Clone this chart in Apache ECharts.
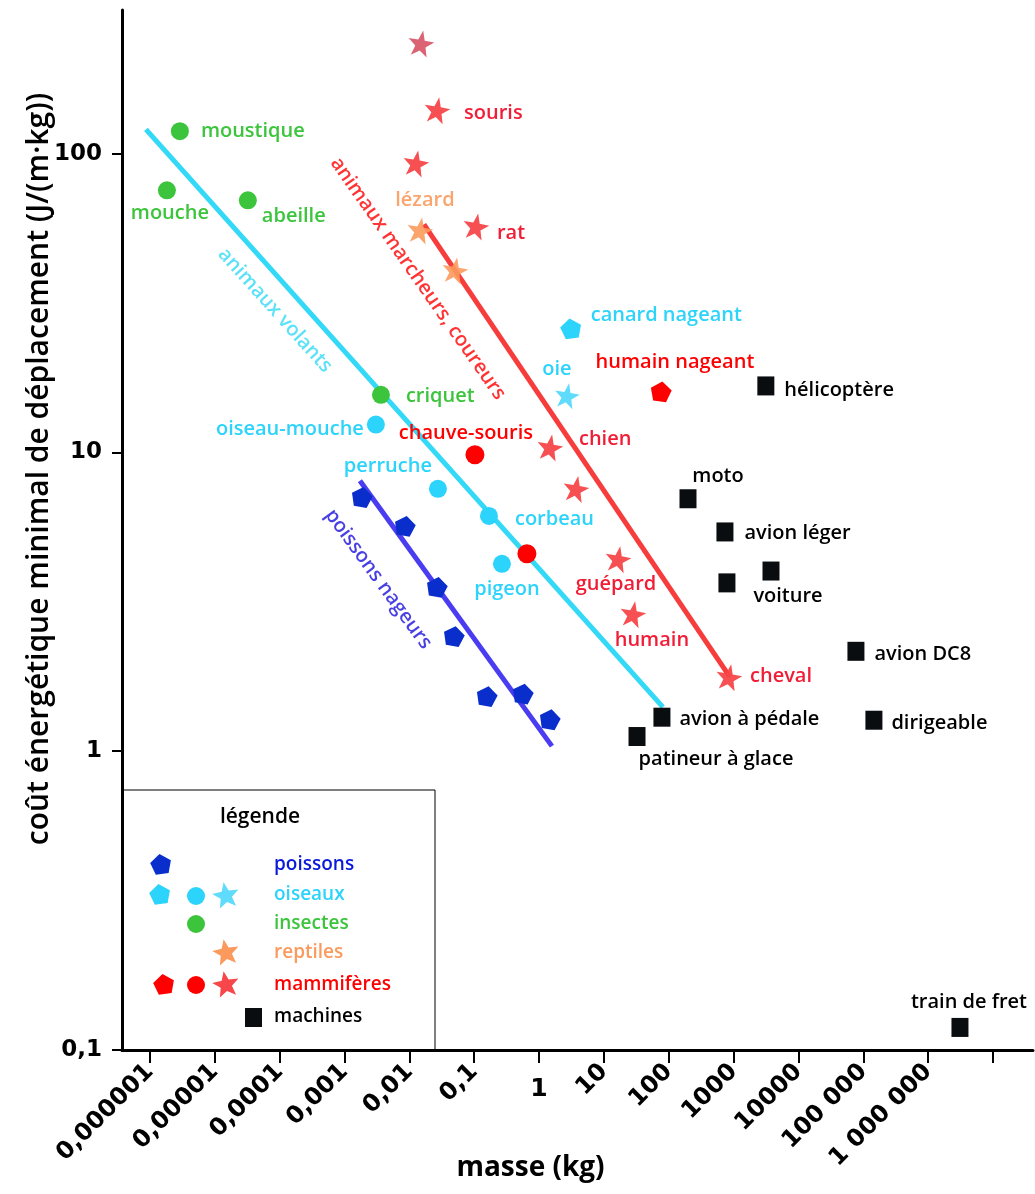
<!DOCTYPE html>
<html>
<head>
<meta charset="utf-8">
<title>coût énergétique minimal de déplacement</title>
<script src="https://cdn.jsdelivr.net/npm/echarts@6/dist/echarts.min.js"></script>
<style>
	html, body { margin: 0; padding: 0; background: #fff; }
	#chart { width: 1035px; height: 1194px; }
</style>
</head>
<body>
<div id="chart"></div>
<script>
	// axes
	const xTicks = [1e-6, 1e-5, 1e-4, 1e-3, 1e-2, 1e-1, 1, 10, 100, 1000, 1e4, 1e5, 1e6, 1e7];
	const xTickLabels = ['0,000001', '0,00001', '0,0001', '0,001', '0,01', '0,1', '1', '10', '100', '1000', '10000', '100 000', '1 000 000', ''];
	const yTicks = [0.1, 1, 10, 100];
	const yTickLabels = ['0,1', '1', '10', '100'];

	// poissons (pentagones)
	const poissonsMass = [0.00186, 0.00857, 0.0267, 0.0488, 0.157, 0.565, 1.47];
	const poissonsCost = [7.10, 5.68, 3.55, 2.43, 1.53, 1.56, 1.28];

	// oiseaux
	const oiseauxPentaNames = ['canard nageant'];
	const oiseauxPentaMass = [3.10];
	const oiseauxPentaCost = [26.0];
	const oiseauxRondNames = ['oiseau-mouche', 'perruche', 'corbeau', 'pigeon'];
	const oiseauxRondMass = [0.00305, 0.0276, 0.169, 0.268];
	const oiseauxRondCost = [12.4, 7.56, 6.13, 4.24];
	const oiseauxEtoileNames = ['oie'];
	const oiseauxEtoileMass = [2.69];
	const oiseauxEtoileCost = [15.5];

	// insectes
	const insectesNames = ['moustique', 'mouche', 'abeille', 'criquet'];
	const insectesMass = [2.90e-6, 1.83e-6, 3.24e-5, 0.00365];
	const insectesCost = [119, 75.4, 69.8, 15.6];

	// reptiles
	const reptilesNames = ['lézard', ''];
	const reptilesMass = [0.01456, 0.0505];
	const reptilesCost = [55.4, 40.7];

	// mammifères
	const mammPentaNames = ['humain nageant'];
	const mammPentaMass = [75.8];
	const mammPentaCost = [16.0];
	const mammRondNames = ['chauve-souris', ''];
	const mammRondMass = [0.1027, 0.65];
	const mammRondCost = [9.83, 4.58];
	const mammEtoileNames = ['', 'souris', '', 'rat', 'chien', '', 'guépard', 'humain', 'cheval'];
	const mammEtoileMass = [0.0151, 0.0267, 0.01264, 0.1064, 1.47, 3.71, 16.5, 28.0, 847];
	const mammEtoileCost = [234, 140, 92.9, 57.1, 10.4, 7.56, 4.40, 2.88, 1.77];

	// machines
	const machinesNames = ['hélicoptère', 'moto', 'avion léger', '', 'voiture', 'avion DC8', 'dirigeable', 'avion à pédale', 'patineur à glace', 'train de fret'];
	const machinesMass = [3140, 198, 735, 789, 3770, 76900, 145600, 78.5, 32.4, 3.09e6];
	const machinesCost = [16.7, 7.0, 5.42, 3.66, 4.01, 2.16, 1.27, 1.30, 1.12, 0.119];

	// droites
	const volantsMass = [8.69e-7, 81.3];
	const volantsCost = [120.7, 1.405];
	const marcheursMass = [0.0168, 879];
	const marcheursCost = [58.0, 1.77];
	const nageursMass = [0.00173, 1.58];
	const nageursCost = [8.04, 1.04];

	// noms des droites (placés le long de chaque droite)
	const trendNames = ['animaux volants', 'animaux marcheurs, coureurs', 'poissons nageurs'];
	const trendNameMass = [8.47e-5, 0.01358, 0.00332];
	const trendNameCost = [29.9, 38.2, 3.77];

	// ---- style ----
	const C = {
		fish: '#0a2ecc',
		bird: '#2cd3fb',
		birdStar: '#5fdbfb',
		insect: '#3cc43c',
		reptile: '#fb9a5c',
		mammal: '#ff0000',
		mammalStar: '#f7474a',
		machine: '#0a0d10'
	};
	const PENTA = 'path://M50,0 L97.6,34.5 L79.4,90.5 L20.6,90.5 L2.4,34.5 Z';
	const STAR = 'path://M50,0 L61.8,33.8 L97.6,34.5 L69,56.2 L79.4,90.5 L50,70 L20.6,90.5 L31,56.2 L2.4,34.5 L38.2,33.8 Z';
	const labelFont = { fontFamily: 'Open Sans', fontWeight: 600, fontSize: 20 };

	// [position, distance, offset]
	const labelPlace = {
		'souris': ['right', 12, [0, 3]],
		'rat': ['right', 6, [0, 7]],
		'lézard': ['top', 5, [5, 0]],
		'moustique': ['right', 12, [0, 0]],
		'mouche': ['bottom', 4, [3, 0]],
		'abeille': ['right', 5, [0, 16]],
		'criquet': ['right', 16, [0, 2]],
		'oiseau-mouche': ['left', 3, [0, 5]],
		'chauve-souris': ['top', 2, [-9, 0]],
		'perruche': ['top', 3, [-50, 0]],
		'corbeau': ['right', 17, [0, 3]],
		'pigeon': ['bottom', 6, [5, 0]],
		'canard nageant': ['right', 8, [0, -13]],
		'oie': ['top', 2, [-10, 0]],
		'humain nageant': ['top', 8, [14, 0]],
		'chien': ['right', 14, [0, -8]],
		'guépard': ['bottom', 0, [-2, 0]],
		'humain': ['bottom', 1, [19, 0]],
		'cheval': ['right', 6, [0, -1]],
		'hélicoptère': ['right', 10, [0, 4]],
		'moto': ['top', 3, [30, 0]],
		'avion léger': ['right', 11, [0, 1]],
		'voiture': ['bottom', 6, [17, 0]],
		'avion DC8': ['right', 10, [0, 3]],
		'dirigeable': ['right', 9, [0, 3]],
		'avion à pédale': ['right', 9, [0, 2]],
		'patineur à glace': ['bottom', 3, [79, 0]],
		'train de fret': ['top', 6, [9, 0]]
	};

	function points(mass, cost, names) {
		return mass.map((m, i) => {
			const name = names ? names[i] : '';
			const item = { value: [m, cost[i]], name: name };
			const p = labelPlace[name];
			if (p) {
				item.label = { show: true, position: p[0], distance: p[1], offset: p[2] };
			}
			return item;
		});
	}

	function scatter(name, data, symbol, size, color, labelColor, extra) {
		return Object.assign({
			name: name,
			type: 'scatter',
			data: data,
			symbol: symbol,
			symbolSize: size,
			itemStyle: { color: color, opacity: 1 },
			label: Object.assign({ show: false, formatter: '{b}', color: labelColor }, labelFont),
			emphasis: { disabled: true },
			z: 4
		}, extra || {});
	}

	function trend(mass, cost, color) {
		return {
			type: 'line',
			data: mass.map((m, i) => [m, cost[i]]),
			symbol: 'none',
			lineStyle: { color: color, width: 5 },
			emphasis: { disabled: true },
			z: 2
		};
	}

	const mammStars = points(mammEtoileMass, mammEtoileCost, mammEtoileNames);
	mammStars[0].itemStyle = { color: '#d95b6b' };

	const trendColors = ['#33d9f6', '#ff0000', '#1a10dc'];
	const trendRotate = [-48, -55, -54];
	const trendLabels = trendNames.map((n, i) => ({
		value: [trendNameMass[i], trendNameCost[i]],
		name: n,
		label: { rotate: trendRotate[i], color: trendColors[i] }
	}));

	// ---- légende (dessinée à la main) ----
	function polyPoints(cx, cy, r, n, inner, rot) {
		const pts = [];
		const k = inner ? n * 2 : n;
		for (let i = 0; i < k; i++) {
			const a = (rot - 90 + i * 360 / k) * Math.PI / 180;
			const rr = inner && i % 2 ? inner : r;
			pts.push([cx + rr * Math.cos(a), cy + rr * Math.sin(a)]);
		}
		return pts;
	}
	const pentagon = (cx, cy, fill) => ({ type: 'polygon', shape: { points: polyPoints(cx, cy, 11, 5, 0, -8) }, style: { fill: fill } });
	const star = (cx, cy, fill) => ({ type: 'polygon', shape: { points: polyPoints(cx, cy, 14, 5, 6, -10) }, style: { fill: fill } });
	const dot = (cx, cy, fill) => ({ type: 'circle', shape: { cx: cx, cy: cy, r: 9 }, style: { fill: fill } });
	const legendText = (y, text, fill) => ({
		type: 'text', x: 274, y: y,
		style: { text: text, fill: fill, font: '600 19px "Open Sans"', verticalAlign: 'middle' }
	});

	const legend = [
		{ type: 'rect', shape: { x: 122, y: 790, width: 313, height: 260 }, style: { fill: '#fff', stroke: '#000', lineWidth: 1 } },
		{ type: 'text', x: 260, y: 817, style: { text: 'légende', fill: '#000', font: '600 21px "Open Sans"', align: 'center', verticalAlign: 'middle' } },
		pentagon(161, 865, C.fish), legendText(865, 'poissons', '#0a1adc'),
		pentagon(160, 895, C.bird), dot(196, 896, C.bird), star(226, 896, C.birdStar), legendText(895, 'oiseaux', C.bird),
		dot(196, 924, C.insect), legendText(924, 'insectes', C.insect),
		star(226, 953, C.reptile), legendText(953, 'reptiles', C.reptile),
		pentagon(164, 985, C.mammal), dot(196, 985, C.mammal), star(226, 985, C.mammalStar), legendText(985, 'mammifères', '#ff0000'),
		{ type: 'rect', shape: { x: 245, y: 1008, width: 17, height: 19 }, style: { fill: C.machine } },
		legendText(1017, 'machines', '#000')
	];

	const xMin = Math.pow(10, -6.43);
	const xMax = Math.pow(10, 7.616);

	const chart = echarts.init(document.getElementById('chart'), null, { renderer: 'canvas' });
	chart.setOption({
		animation: false,
		backgroundColor: '#fff',
		grid: { left: 122, right: 2, top: 10, bottom: 144, containLabel: false, outerBoundsMode: 'none' },
		xAxis: [{
			type: 'log',
			logBase: 10,
			min: xMin,
			max: xMax,
			position: 'bottom',
			name: 'masse (kg)',
			nameLocation: 'middle',
			nameGap: 104,
			nameMoveOverlap: false,
			nameTextStyle: { fontFamily: 'Open Sans', fontWeight: 700, fontSize: 28, color: '#000', padding: [0, 94, 0, 0] },
			axisLine: { lineStyle: { color: '#000', width: 3 } },
			axisTick: { customValues: xTicks, length: 13, lineStyle: { color: '#000', width: 2 } },
			axisLabel: {
				customValues: xTicks.filter(v => v !== 1 && v !== 1e7),
				rotate: 45,
				margin: 18,
				formatter: v => xTickLabels[xTicks.findIndex(t => Math.abs(Math.log10(t) - Math.log10(v)) < 1e-6)] || '',
				fontFamily: 'DejaVu Sans',
				fontWeight: 'bold',
				fontSize: 24,
				color: '#000'
			},
			splitLine: { show: false }
		}, {
			// le « 1 » est écrit droit
			type: 'log',
			logBase: 10,
			min: xMin,
			max: xMax,
			position: 'bottom',
			axisLine: { show: false },
			axisTick: { show: false },
			axisLabel: {
				customValues: [1],
				rotate: 0,
				margin: 27,
				formatter: () => xTickLabels[6],
				fontFamily: 'DejaVu Sans',
				fontWeight: 'bold',
				fontSize: 25,
				color: '#000'
			},
			splitLine: { show: false }
		}],
		yAxis: {
			type: 'log',
			logBase: 10,
			min: 0.1,
			max: Math.pow(10, 2.481),
			name: 'coût énergétique minimal de déplacement (J/(m·kg))',
			nameLocation: 'middle',
			nameGap: 68,
			nameMoveOverlap: false,
			nameTextStyle: { fontFamily: 'Open Sans', fontWeight: 600, fontSize: 30, color: '#000', padding: [0, 0, 0, 122] },
			axisLine: { lineStyle: { color: '#000', width: 3 } },
			axisTick: { customValues: yTicks, length: 10, lineStyle: { color: '#000', width: 2 } },
			axisLabel: {
				customValues: yTicks,
				margin: 20,
				formatter: v => yTickLabels[yTicks.findIndex(t => Math.abs(Math.log10(t) - Math.log10(v)) < 1e-6)] || '',
				fontFamily: 'DejaVu Sans',
				fontWeight: 'bold',
				fontSize: 23,
				color: '#000'
			},
			splitLine: { show: false }
		},
		graphic: { elements: legend },
		series: [
			trend(volantsMass, volantsCost, trendColors[0]),
			trend(marcheursMass, marcheursCost, '#f73c3c'),
			trend(nageursMass, nageursCost, '#4a3cf0'),
			scatter('poissons', points(poissonsMass, poissonsCost), PENTA, [21, 20], C.fish, C.fish, { symbolRotate: -10 }),
			scatter('oiseaux', points(oiseauxPentaMass, oiseauxPentaCost, oiseauxPentaNames), PENTA, [21, 20], C.bird, C.bird, { symbolRotate: 8 }),
			scatter('oiseaux', points(oiseauxRondMass, oiseauxRondCost, oiseauxRondNames), 'circle', 18, C.bird, C.bird),
			scatter('oiseaux', points(oiseauxEtoileMass, oiseauxEtoileCost, oiseauxEtoileNames), STAR, 25, C.birdStar, C.bird, { symbolRotate: -10 }),
			scatter('insectes', points(insectesMass, insectesCost, insectesNames), 'circle', 18, C.insect, C.insect),
			scatter('reptiles', points(reptilesMass, reptilesCost, reptilesNames), STAR, 26, C.reptile, C.reptile, { symbolRotate: -10, itemStyle: { color: C.reptile, opacity: 0.9 } }),
			scatter('mammifères', points(mammPentaMass, mammPentaCost, mammPentaNames), PENTA, [21, 20], C.mammal, '#ff0000', { symbolRotate: -8 }),
			scatter('mammifères', points(mammRondMass, mammRondCost, mammRondNames), 'circle', 19, C.mammal, '#ff0000'),
			scatter('mammifères', mammStars, STAR, 26, C.mammalStar, '#f0102a', { symbolRotate: -10, itemStyle: { color: C.mammalStar, opacity: 0.95 }, z: 5 }),
			scatter('machines', points(machinesMass, machinesCost, machinesNames), 'rect', [17, 19], C.machine, '#000'),
			{
				type: 'scatter',
				data: trendLabels,
				symbolSize: 0,
				silent: true,
				label: Object.assign({ show: true, position: 'inside', formatter: '{b}', align: 'center', verticalAlign: 'middle' }, labelFont),
				z: 3
			}
		]
	});
</script>
</body>
</html>
